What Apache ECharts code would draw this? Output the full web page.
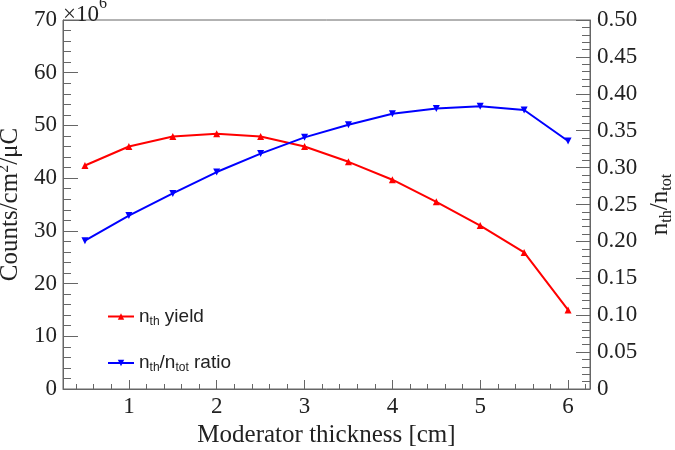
<!DOCTYPE html>
<html>
<head>
<meta charset="utf-8">
<script src="https://cdn.jsdelivr.net/npm/echarts@6/dist/echarts.min.js"></script>
<style>
  html, body { margin: 0; padding: 0; background: #fff; }
  #chart { width: 675px; height: 450px; }
</style>
</head>
<body>
<div id="chart"></div>
<script>
// moderator scan: thermal neutron yield and thermal fraction
var THICKNESS = [0.5, 1, 1.5, 2, 2.5, 3, 3.5, 4, 4.5, 5, 5.5, 6];
var YIELD = [42.4, 46.0, 47.9, 48.4, 47.9, 46.0, 43.1, 39.7, 35.5, 31.0, 25.9, 15.0];
var RATIO = [0.201, 0.235, 0.265, 0.294, 0.319, 0.341, 0.358, 0.373, 0.380, 0.383, 0.378, 0.336];
var X_MAJOR = [1, 2, 3, 4, 5, 6];
var X_MINOR = [0.4, 0.6, 0.8, 1.2, 1.4, 1.6, 1.8, 2.2, 2.4, 2.6, 2.8, 3.2, 3.4, 3.6, 3.8,
  4.2, 4.4, 4.6, 4.8, 5.2, 5.4, 5.6, 5.8, 6.2];

var SERIF = '"Liberation Serif", "DejaVu Serif", serif';
var SANS = '"Liberation Sans", Arial, sans-serif';
var AXIS_COL = '#666';
var TXT = '#222';

function pairs(ys) {
  return THICKNESS.map(function (x, i) { return [x, ys[i]]; });
}

var chart = echarts.init(document.getElementById('chart'), null, { renderer: 'canvas' });

var legendLabels = {
  'yield': '{n|n}{s|th}{n| yield}',
  'ratio': '{n|n}{s|th}{n|/n}{s|tot}{n| ratio}'
};

chart.setOption({
  animation: false,
  backgroundColor: '#fff',
  grid: {
    left: 63, right: 85, top: 20, bottom: 61,
    outerBoundsMode: 'none', containLabel: false,
    show: true, borderColor: AXIS_COL, borderWidth: 1
  },
  graphic: [{
    type: 'text', left: 63, top: -4,
    style: {
      text: '{b|×10}{p|6}',
      rich: {
        b: { fontFamily: SERIF, fontSize: 23, fill: TXT, padding: [8, 0, 0, 0] },
        p: { fontFamily: SERIF, fontSize: 16, fill: TXT, padding: [0, 0, 14, 0] }
      }
    }
  }],
  legend: {
    orient: 'vertical', left: 102, top: 302, itemGap: 26, itemWidth: 26, itemHeight: 8,
    data: ['yield', 'ratio'],
    formatter: function (name) { return legendLabels[name]; },
    textStyle: {
      rich: {
        n: { fontFamily: SANS, fontSize: 19, color: TXT },
        s: { fontFamily: SANS, fontSize: 12, color: TXT, padding: [10, 0, 0, 0] }
      }
    }
  },
  xAxis: [{
    type: 'value', min: 0.25, max: 6.25,
    name: 'Moderator thickness [cm]', nameLocation: 'middle', nameGap: 33,
    nameTextStyle: { fontFamily: SERIF, fontSize: 25, color: TXT },
    axisLine: { lineStyle: { color: AXIS_COL } },
    axisTick: { inside: true, length: 9, customValues: X_MAJOR, lineStyle: { color: AXIS_COL } },
    axisLabel: { customValues: X_MAJOR, fontFamily: SERIF, fontSize: 23, color: TXT, margin: 6 },
    splitLine: { show: false }
  }, {
    type: 'value', min: 0.25, max: 6.25, position: 'bottom',
    axisLine: { show: false },
    axisTick: { inside: true, length: 5, customValues: X_MINOR, lineStyle: { color: AXIS_COL } },
    axisLabel: { show: false },
    splitLine: { show: false }
  }],
  yAxis: [{
    type: 'value', min: 0, max: 70, interval: 10,
    name: 'Counts/cm{sup|2}/μC', nameLocation: 'middle', nameGap: 34, nameRotate: 90,
    nameTextStyle: {
      fontFamily: SERIF, fontSize: 25, color: TXT,
      rich: { sup: { fontFamily: SERIF, fontSize: 16, color: TXT, padding: [0, 0, 13, 0] } }
    },
    axisLine: { show: true, lineStyle: { color: AXIS_COL } },
    axisTick: { inside: true, length: 15, lineStyle: { color: AXIS_COL } },
    minorTick: { show: true, splitNumber: 5, length: 8, lineStyle: { color: AXIS_COL } },
    axisLabel: { fontFamily: SERIF, fontSize: 23, color: TXT, margin: 6 },
    splitLine: { show: false }
  }, {
    type: 'value', min: 0, max: 0.5, interval: 0.05, position: 'right',
    name: 'n{sub|th}/n{sub|tot}', nameLocation: 'middle', nameGap: 48, nameRotate: 90,
    nameTextStyle: {
      fontFamily: SERIF, fontSize: 25, color: TXT,
      rich: { sub: { fontFamily: SERIF, fontSize: 16, color: TXT, padding: [13, 0, 0, 0] } }
    },
    axisLine: { show: true, lineStyle: { color: AXIS_COL } },
    axisTick: { inside: true, length: 14, lineStyle: { color: AXIS_COL } },
    minorTick: { show: true, splitNumber: 5, length: 8, lineStyle: { color: AXIS_COL } },
    axisLabel: {
      fontFamily: SERIF, fontSize: 23, color: TXT, margin: 7,
      formatter: function (v) { return v === 0 ? '0' : v.toFixed(2); }
    },
    splitLine: { show: false }
  }],
  series: [{
    name: 'yield', type: 'line', xAxisIndex: 0, yAxisIndex: 0,
    data: pairs(YIELD),
    symbol: 'triangle', symbolSize: 7,
    lineStyle: { color: '#ff0000', width: 2 },
    itemStyle: { color: '#ff0000' }
  }, {
    name: 'ratio', type: 'line', xAxisIndex: 0, yAxisIndex: 1,
    data: pairs(RATIO),
    symbol: 'triangle', symbolRotate: 180, symbolSize: 7,
    lineStyle: { color: '#0000ff', width: 2 },
    itemStyle: { color: '#0000ff' }
  }]
});
</script>
</body>
</html>
